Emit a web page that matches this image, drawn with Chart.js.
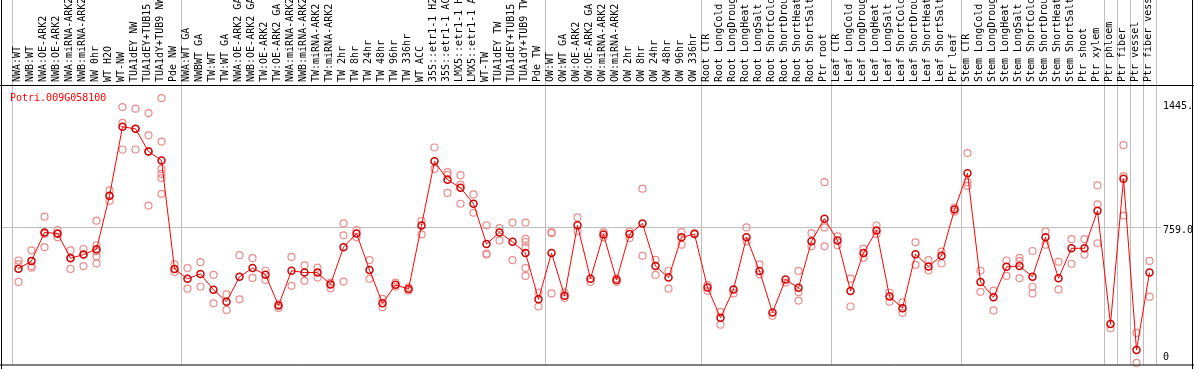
<!DOCTYPE html>
<html>
<head>
<meta charset="utf-8">
<script src="https://cdn.jsdelivr.net/npm/chart.js@4.4.1/dist/chart.umd.min.js"></script>
<style>
  html, body { margin: 0; padding: 0; background: #fff; }
  canvas { display: block; }
</style>
</head>
<body>
<canvas id="expr-chart" width="1194" height="370"></canvas>
<script>
const geneId = 'Potri.009G058100';

const samples = [
  'NWA:WT', 'NWB:WT', 'NWA:OE-ARK2', 'NWB:OE-ARK2', 'NWA:miRNA-ARK2', 'NWB:miRNA-ARK2',
  'NW 0hr', 'WT H2O', 'WT-NW', 'TUA1dEY NW', 'TUA1dEY+TUB15 NW', 'TUA1dY+TUB9 NW', 'Pde NW',
  'NWA:WT GA', 'NWBWT GA', 'TW:WT', 'TW:WT GA', 'NWA:OE-ARK2 GA', 'NWB:OE-ARK2 GA',
  'TW:OE-ARK2', 'TW:OE-ARK2 GA', 'NWA:miRNA-ARK2', 'NWB:miRNA-ARK2', 'TW:miRNA-ARK2',
  'TW:miRNA-ARK2', 'TW 2hr', 'TW 8hr', 'TW 24hr', 'TW 48hr', 'TW 96hr', 'TW 336hr', 'WT ACC',
  '35S::etr1-1 H2O', '35S::etr1-1 ACC', 'LMX5::etr1-1 H2O', 'LMX5::etr1-1 ACC', 'WT-TW',
  'TUA1dEY TW', 'TUA1dEY+TUB15 TW', 'TUA1dY+TUB9 TW', 'Pde TW',
  'OW:WT', 'OW:WT GA', 'OW:OE-ARK2', 'OW:OE-ARK2 GA', 'OW:miRNA-ARK2', 'OW:miRNA-ARK2',
  'OW 2hr', 'OW 8hr', 'OW 24hr', 'OW 48hr', 'OW 96hr', 'OW 336hr',
  'Root CTR', 'Root LongCold', 'Root LongDrought', 'Root LongHeat', 'Root LongSalt',
  'Root ShortCold', 'Root ShortDrought', 'Root ShortHeat', 'Root ShortSalt', 'Ptr root',
  'Leaf CTR', 'Leaf LongCold', 'Leaf LongDrought', 'Leaf LongHeat', 'Leaf LongSalt',
  'Leaf ShortCold', 'Leaf ShortDrought', 'Leaf ShortHeat', 'Leaf ShortSalt', 'Ptr leaf',
  'Stem CTR', 'Stem LongCold', 'Stem LongDrought', 'Stem LongHeat', 'Stem LongSalt',
  'Stem ShortCold', 'Stem ShortDrought', 'Stem ShortHeat', 'Stem ShortSalt', 'Ptr shoot',
  'Ptr xylem', 'Ptr phloem', 'Ptr fiber', 'Ptr vessel', 'Ptr fiber vessel'
];

const means = [
  524, 568, 726, 721, 583, 603, 633, 930, 1314, 1303, 1177, 1127, 523,
  468, 495, 407, 341, 479, 528, 491, 319, 513, 503, 503, 437, 644, 721, 517, 332, 435, 411,
  765, 1122, 1019, 975, 886, 662, 726, 674, 612, 354,
  612, 374, 766, 469, 715, 462, 717, 776, 539, 475, 699, 717,
  420, 251, 409, 699, 512, 281, 464, 418, 677, 803,
  682, 400, 612, 737, 370, 305, 605, 537, 596, 854,
  1056, 451, 365, 535, 539, 480, 699, 471, 638, 638,
  847, 217, 1025, 72, 503
];

// individual replicates, one list per sample
const replicates = [
  [570, 548, 451], [627, 539, 530], [814, 718, 644], [740, 718, 700], [627, 585, 523],
  [634, 603, 539], [792, 655, 622, 594, 554], [960, 930, 902], [1424, 1336, 1188],
  [1415, 1303, 1188], [1391, 1267, 1177, 876], [1474, 1232, 1080, 1052, 1029, 941], [548, 506],
  [528, 413], [561, 424], [490, 332], [381, 295], [600, 354], [583, 473], [513, 462],
  [328, 306], [590, 429], [543, 457], [530, 475], [447, 416], [777, 710, 453], [740, 699],
  [572, 468], [356, 310], [447, 424], [420, 402], [790, 715], [1199, 1080],
  [1062, 1047, 946], [1045, 992, 886], [938, 836], [766, 609, 603], [750, 682], [781, 572],
  [781, 691, 673, 644, 528, 484], [392, 314],
  [728, 722, 387], [392, 361], [810, 732], [451], [728, 700], [471, 451], [732, 695],
  [970, 596], [574, 490], [513, 413], [728, 658], [722],
  [433, 402], [284, 213], [387], [754, 677], [548, 493], [262], [447], [512, 394, 347],
  [722, 649], [1006, 754, 649],
  [704, 655], [469, 314], [636, 585], [765, 718], [392, 341], [337, 279], [671, 546],
  [572, 515], [620, 554], [865, 842],
  [1168, 1006, 985], [513, 396], [402, 292], [570, 484], [585, 567, 471], [623, 424, 387],
  [732, 658], [563, 409], [689, 552], [689, 603],
  [988, 883, 666], [193], [1212, 1040, 820], [167, 0], [568, 369]
];

// category boundaries that get a separator line
const groupBreaks = [0, 13, 41, 53, 63, 73, 84, 85, 86, 87, 88];

const yTickValues = [0, 759, 1445];
const yTickLabels = ['0', '759.0', '1445.'];
const refLine = 759;

Chart.defaults.font.family = "'DejaVu Sans Mono', monospace";
Chart.defaults.font.size = 10;
Chart.defaults.color = '#000';

const sepColor = '#c0c0c0';
const none = 'rgba(0,0,0,0)';

const maxReps = Math.max(...replicates.map(r => r.length));
const repSets = [];
for (let k = 0; k < maxReps; k++) {
  repSets.push({
    label: 'rep' + (k + 1),
    data: replicates.map(r => (r[k] === undefined ? null : r[k])),
    showLine: false,
    pointRadius: 3.5,
    pointBorderWidth: 1.2,
    pointBorderColor: 'rgb(234,140,140)',
    pointBackgroundColor: none,
    clip: false,
    order: 1
  });
}

const framePlugin = {
  id: 'frame',
  beforeDatasetsDraw(chart) {
    const { ctx, chartArea } = chart;
    const y = Math.round(chart.scales.y.getPixelForValue(refLine)) + 0.5;
    ctx.save();
    ctx.strokeStyle = sepColor;
    ctx.lineWidth = 1;
    ctx.beginPath();
    ctx.moveTo(1, y);
    ctx.lineTo(chartArea.right + 5, y);
    ctx.stroke();
    ctx.restore();
  },
  afterDraw(chart) {
    const { ctx, chartArea, width } = chart;
    ctx.save();
    ctx.strokeStyle = '#000';
    ctx.lineWidth = 1;
    ctx.beginPath();
    ctx.moveTo(1.5, 0); ctx.lineTo(1.5, 369);
    ctx.moveTo(width - 1.5, 0); ctx.lineTo(width - 1.5, 369);
    ctx.moveTo(0, chartArea.top + 0.5); ctx.lineTo(width, chartArea.top + 0.5);
    ctx.moveTo(0, chartArea.bottom + 0.5); ctx.lineTo(width, chartArea.bottom + 0.5);
    ctx.stroke();
    ctx.fillStyle = '#ff0000';
    ctx.font = "10px 'DejaVu Sans Mono', monospace";
    ctx.textBaseline = 'alphabetic';
    ctx.fillText(geneId, 10, 101);
    ctx.restore();
  }
};

new Chart(document.getElementById('expr-chart'), {
  type: 'line',
  data: {
    labels: samples,
    datasets: [
      {
        label: 'mean',
        data: means,
        borderColor: '#ff0000',
        borderWidth: 1,
        pointRadius: 3.5,
        pointBorderWidth: 1.5,
        pointBorderColor: '#d00000',
        pointBackgroundColor: none,
        order: 0
      },
      ...repSets
    ]
  },
  options: {
    responsive: false,
    animation: false,
    layout: { padding: { left: 12, right: 0, top: 0, bottom: 2 } },
    plugins: { legend: { display: false }, tooltip: { enabled: false } },
    scales: {
      x: {
        position: 'top',
        offset: true,
        grid: {
          offset: true,
          tickLength: 85,
          color: c => groupBreaks.includes(c.index === undefined ? samples.length : c.index) ? sepColor : none
        },
        border: { display: false },
        // rotated labels on a top axis are pushed left, pull them back over their tick
        ticks: { autoSkip: false, minRotation: 90, maxRotation: 90, padding: -82, labelOffset: 11 },
        afterFit: s => { s.height = 85; s.paddingLeft = 0; s.paddingRight = 0; }
      },
      y: {
        position: 'right',
        min: -8.8,
        max: 1547,
        grid: { display: false, drawTicks: false },
        border: { display: false },
        // the "0" label is lifted so it stays inside the frame
        afterBuildTicks: s => { s.ticks = yTickValues.map(v => ({ value: v === 0 ? 48 : v })); },
        ticks: { padding: 7, labelOffset: 3.4, callback: (v, i) => yTickLabels[i] },
        afterFit: s => { s.width = 38; s.paddingTop = 0; s.paddingBottom = 0; }
      }
    }
  },
  plugins: [framePlugin]
});
</script>
</body>
</html>
